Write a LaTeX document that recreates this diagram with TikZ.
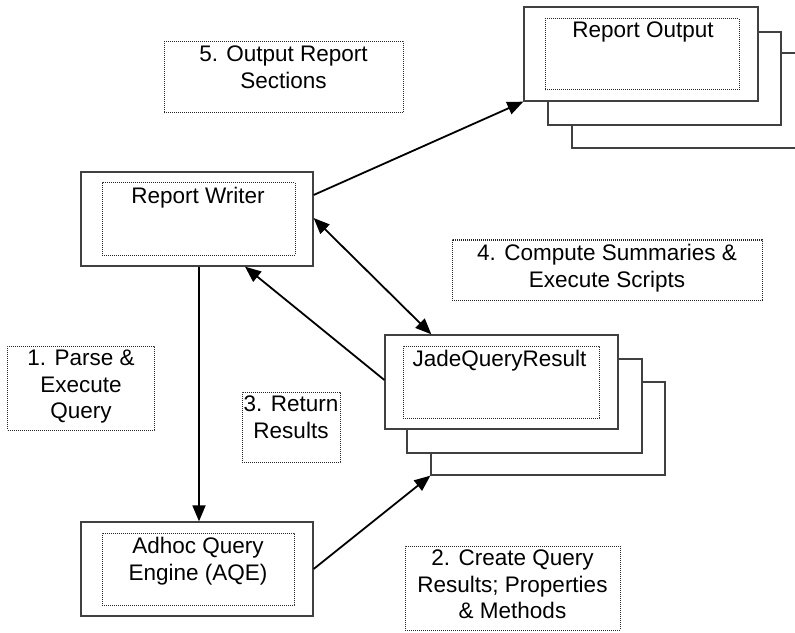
\documentclass[tikz,border=0pt]{standalone}
\usepackage{fontspec}
\setmainfont{Liberation Sans}
\usetikzlibrary{arrows.meta,calc}
\begin{document}
\begin{tikzpicture}[x=1bp,y=-1bp,
  outerbox/.style={draw=black!75,line width=1.3bp,fill=white,inner sep=0,rectangle},
  dotbox/.style={draw=black!85,line width=1bp,dash pattern=on 1bp off 1bp,inner sep=0,rectangle},
  txt/.style={font=\fontsize{22.5bp}{26.5bp}\selectfont,inner sep=0,anchor=north,align=center},
  conn/.style={line width=1.8bp,black,-{Triangle[length=16bp,width=13bp]}},
  dconn/.style={line width=1.8bp,black,{Triangle[length=16bp,width=13bp]}-{Triangle[length=16bp,width=13bp]}}]
\useasboundingbox (0,0) rectangle (795,633);
\clip (0,0) rectangle (795,633);
% Report Output stack
\node[outerbox,minimum width=233bp,minimum height=95bp] (RO3) at (688.5,100.5) {};
\node[outerbox,minimum width=233bp,minimum height=93bp] (RO2) at (664.5,78.5) {};
\node[outerbox,minimum width=234bp,minimum height=94bp] (RO) at (641,54) {};
\node[dotbox,minimum width=194bp,minimum height=71bp] (ROi) at (642,54.5) {};
\node[txt] (ROt) at (643,22) {Report Output};
% Report Writer
\node[outerbox,minimum width=232bp,minimum height=94bp] (RW) at (197,219) {};
\node[dotbox,minimum width=193bp,minimum height=72bp] (RWi) at (198.5,219) {};
\node[txt] (RWt) at (198,187) {Report Writer};
% JadeQueryResult stack
\node[outerbox,minimum width=234bp,minimum height=93bp] (JQR3) at (548,428.5) {};
\node[outerbox,minimum width=235bp,minimum height=94bp] (JQR2) at (524.5,406) {};
\node[outerbox,minimum width=233bp,minimum height=94bp] (JQR) at (501.5,382) {};
\node[dotbox,minimum width=196bp,minimum height=72bp] (JQRi) at (501,382) {};
\node[txt] (JQRt) at (499.5,350) {JadeQueryResult};
% AQE
\node[outerbox,minimum width=232bp,minimum height=94bp] (AQE) at (197,569) {};
\node[dotbox,minimum width=192bp,minimum height=72bp] (AQEi) at (198,569) {};
\node[txt] (AQEt) at (198,537) {Adhoc Query\\Engine (AQE)};
% Step labels
\node[dotbox,minimum width=239bp,minimum height=71bp] (L5) at (283.5,77.5) {};
\node[txt] (L5t) at (283.5,46) {5. Output Report\\Sections};
\node[dotbox,minimum width=146bp,minimum height=84bp] (L1) at (81,388) {};
\node[txt] (L1t) at (81,350) {1. Parse \&\\Execute\\Query};
\node[dotbox,minimum width=98bp,minimum height=70bp] (L3) at (291,427) {};
\node[txt] (L3t) at (291,396) {3. Return\\Results};
\node[dotbox,minimum width=215bp,minimum height=84bp] (L2) at (512.5,588) {};
\node[txt] (L2t) at (512.5,550) {2. Create Query\\Results; Properties\\\& Methods};
\node[dotbox,minimum width=310bp,minimum height=60bp] (L4) at (607,270) {};
\node[txt] (L4t) at (607,244) {4. Compute Summaries \&\\Execute Scripts};
% connectors
\draw[conn] ([yshift=24bp]RW.east) -- (RO.south west);
\draw[dconn] ([yshift=1bp]RW.east) -- ([xshift=47bp]JQR.north west);
\draw[conn] ([yshift=2bp]JQR.west) -- ([xshift=48bp]RW.south);
\draw[conn] ([xshift=2bp]RW.south) -- ([xshift=2bp]AQE.north);
\draw[conn] (AQE.east) -- (JQR3.south west);
\end{tikzpicture}
\end{document}
